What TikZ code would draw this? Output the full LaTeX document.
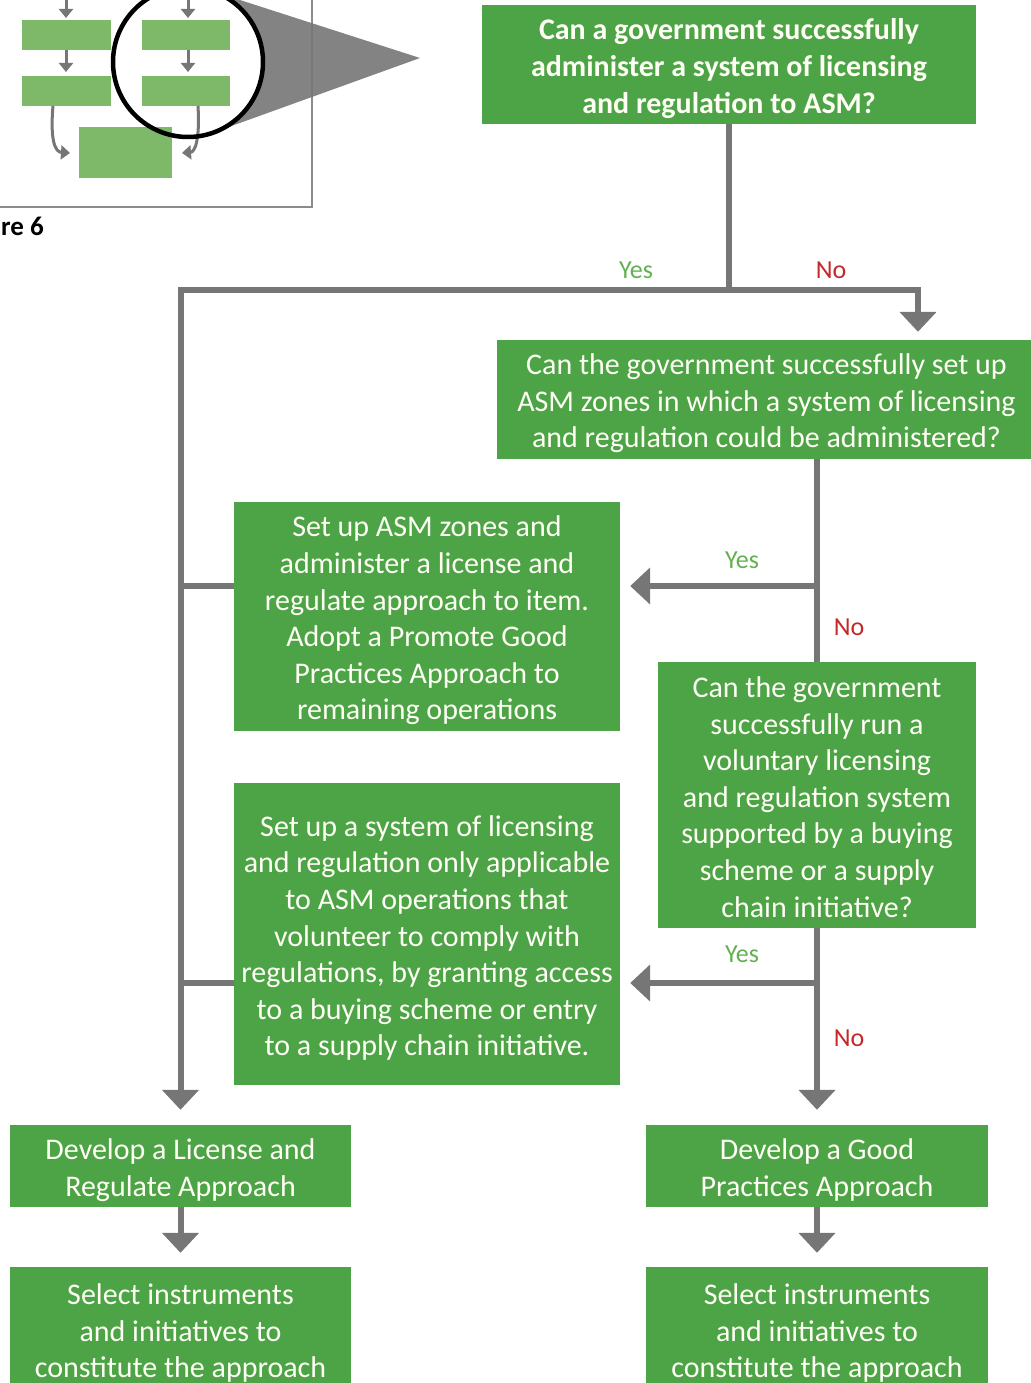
\documentclass[tikz,border=0pt]{standalone}
\usepackage{fontspec}
\setmainfont{Carlito}
\usetikzlibrary{arrows.meta,calc}
\definecolor{boxgreen}{RGB}{76,164,70}
\definecolor{thumbgreen}{RGB}{126,185,106}
\definecolor{linegray}{RGB}{118,118,118}
\definecolor{framegray}{RGB}{140,140,140}
\definecolor{yesgreen}{RGB}{98,176,82}
\definecolor{nored}{RGB}{196,40,40}
\begin{document}
\begin{tikzpicture}[x=1pt,y=-1pt,
  box/.style={fill=boxgreen, inner sep=0pt},
  boxtext/.style={text=white!96!yellow, align=center, inner sep=0pt,
    font=\fontsize{30}{36.6}\selectfont},
  flow/.style={draw=linegray, line width=6pt},
  flowarrow/.style={flow, -{Triangle[width=36pt,length=20pt]}},
  thumbarrow/.style={draw=linegray, line width=3pt, -{Triangle[width=14pt,length=9pt]}},
  yes/.style={text=yesgreen, font=\fontsize{26}{30}\selectfont},
  no/.style={text=nored, font=\fontsize{26}{30}\selectfont}]
\useasboundingbox (0,0) rectangle (1030,1383);

% --- small overview thumbnail with magnifier ---
\draw[framegray, line width=2.5pt] (-20,-20) rectangle (312,207);
\fill[linegray, opacity=0.9] (420,58) -- (211.1,-9.3) -- (188,62) -- (213.5,132.5) -- cycle;
\fill[white] (188,62) circle[radius=75pt];
\fill[thumbgreen] (22,20) rectangle (111,50);
\fill[thumbgreen] (142,20) rectangle (230,50);
\fill[thumbgreen] (22,76) rectangle (111,106);
\fill[thumbgreen] (142,76) rectangle (230,106);
\fill[thumbgreen] (79,127) rectangle (172,178);
\draw[thumbarrow] (66,-10) -- (66,18);
\draw[thumbarrow] (188,-10) -- (188,18);
\draw[thumbarrow] (66,50) -- (66,72);
\draw[thumbarrow] (188,50) -- (188,72);
\draw[thumbarrow] (53,106) .. controls (50,140) and (55,152) .. (70,153);
\draw[thumbarrow] (198,106) .. controls (200,140) and (195,152) .. (182,153);
\draw[black, line width=4.5pt] (188,62) circle[radius=75pt];
\node[font=\bfseries\fontsize{27}{30}\selectfont, anchor=east, inner sep=0pt] (figlabel) at (44,228) {Figure 6};

% --- decision boxes ---
\node[box, minimum width=494pt, minimum height=119pt] (q1) at (729,64.5) {};
\node[boxtext] (q1t) at ([yshift=-4pt]q1.center)
  {\bfseries Can a government successfully\\\bfseries administer a system of licensing\\\bfseries and regulation to ASM?};
\node[box, minimum width=539pt, minimum height=119pt] (q2) at (766.5,399.5) {};
\node[boxtext] (q2t) at ([yshift=-4pt]q2.center)
  {Can the government successfully set up\\ASM zones in which a system of licensing\\and regulation could be administered?};
\node[box, minimum width=386pt, minimum height=229pt] (a) at (427,616.5) {};
\node[boxtext] (at) at ([yshift=-4pt]a.center)
  {Set up ASM zones and\\administer a license and\\regulate approach to item.\\Adopt a Promote Good\\Practices Approach to\\remaining operations};
\node[box, minimum width=318pt, minimum height=266pt] (q3) at (817,795) {};
\node[boxtext] (q3t) at ([yshift=-2pt]q3.center)
  {Can the government\\successfully run a\\voluntary licensing\\and regulation system\\supported by a buying\\scheme or a supply\\chain initiative?};
\node[box, minimum width=386pt, minimum height=302pt] (b) at (427,934) {};
\node[boxtext] (bt) at ([yshift=-4pt]b.center)
  {Set up a system of licensing\\and regulation only applicable\\to ASM operations that\\volunteer to comply with\\regulations, by granting access\\to a buying scheme or entry\\to a supply chain initiative.};
\node[box, minimum width=341pt, minimum height=82pt] (c) at (180.5,1166) {};
\node[boxtext] (ct) at ([yshift=-4pt]c.center)
  {Develop a License and\\Regulate Approach};
\node[box, minimum width=341pt, minimum height=124pt] (d) at (180.5,1329) {};
\node[boxtext] (dt) at ([yshift=-4pt]d.center)
  {Select instruments\\and initiatives to\\constitute the approach};
\node[box, minimum width=342pt, minimum height=82pt] (e) at (817,1166) {};
\node[boxtext] (et) at ([yshift=-4pt]e.center)
  {Develop a Good\\Practices Approach};
\node[box, minimum width=342pt, minimum height=124pt] (f) at (817,1329) {};
\node[boxtext] (ft) at ([yshift=-4pt]f.center)
  {Select instruments\\and initiatives to\\constitute the approach};

% --- connectors ---
\coordinate (nocol) at (918,290);
\coordinate (yescol) at (180,290);
\coordinate (ya) at (817,586);
\coordinate (yb) at (817,983);
\draw[flowarrow, shorten >=8pt] (q1.south) |- (nocol) -- (nocol |- q2.north);
\draw[flowarrow, shorten >=15pt] (q1.south |- nocol) -| (c.north);
\draw[flow] (q3.north |- q2.south) -- (q3.north);
\draw[flowarrow, shorten >=10pt] (ya) -- (ya -| a.east);
\draw[flow] (ya -| a.west) -- (ya -| yescol);
\draw[flowarrow, shorten >=15pt] (q3.south) -- (e.north);
\draw[flowarrow, shorten >=10pt] (yb) -- (yb -| b.east);
\draw[flow] (yb -| b.west) -- (yb -| yescol);
\draw[flowarrow, shorten >=14pt] (c.south) -- (d.north);
\draw[flowarrow, shorten >=14pt] (e.south) -- (f.north);

% --- branch labels ---
\node[yes] (y1) at (636,270) {Yes};
\node[no] (n1) at (831,270) {No};
\node[yes] (y2) at (742,560) {Yes};
\node[no] (n2) at (849,627) {No};
\node[yes] (y3) at (742,954) {Yes};
\node[no] (n3) at (849,1038) {No};
\end{tikzpicture}
\end{document}
